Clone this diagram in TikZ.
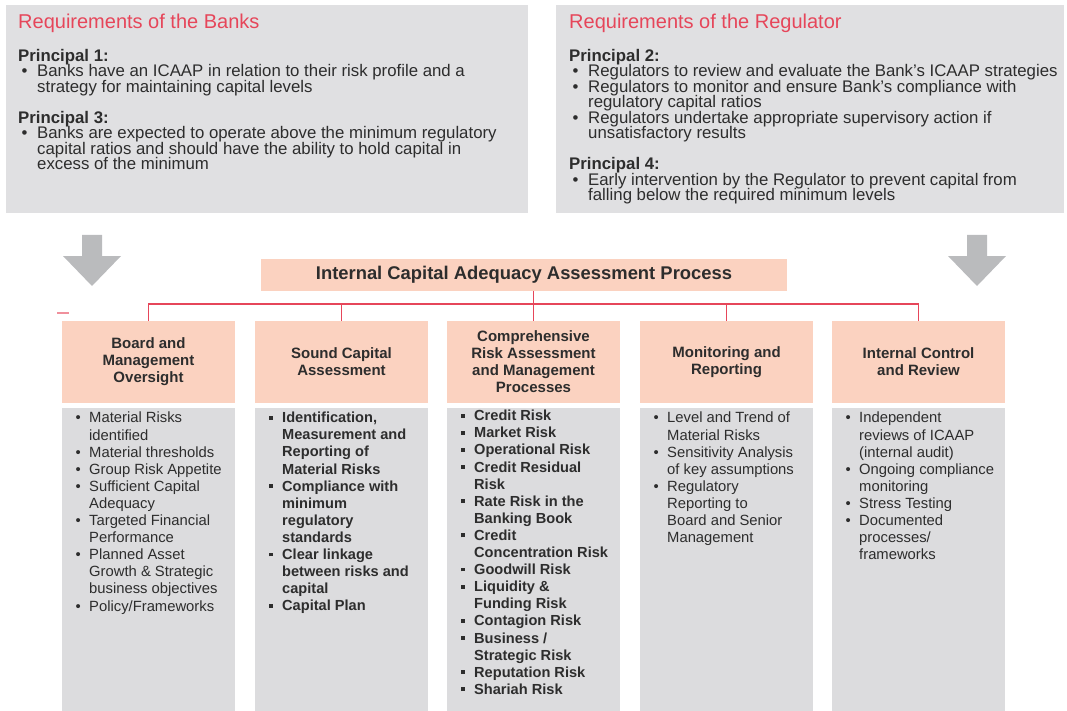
\documentclass[tikz,border=0pt]{standalone}
\usepackage{fontspec}
\setmainfont{Liberation Sans}
\definecolor{panelgrey}{RGB}{224,224,226}
\definecolor{colgrey}{RGB}{220,220,222}
\definecolor{salmon}{RGB}{251,210,192}
\definecolor{icaapred}{RGB}{230,70,90}
\definecolor{arrowgrey}{RGB}{186,187,189}
\definecolor{textgrey}{RGB}{45,45,45}
\newcommand{\pbul}{\makebox[19pt][l]{\hspace{3.5pt}\textbullet}}
\newcommand{\pind}{\hspace*{19pt}}
\newcommand{\cbul}{\makebox[14pt][l]{\hspace{0.5pt}\textbullet}}
\newcommand{\csq}{\makebox[14pt][l]{\hspace{0.5pt}\raisebox{0.22em}{\rule{3.8pt}{3.8pt}}}}
\newcommand{\cind}{\hspace*{14pt}}
\newcommand{\tightlines}{\lineskiplimit=-50pt\relax}
\begin{document}
\begin{tikzpicture}[x=1pt,y=-1pt,
	head/.style={inner sep=0,text=icaapred,font=\fontsize{20}{22}\selectfont},
	body/.style={inner sep=0,align=left,text=textgrey,font={\fontsize{16.8}{15.5}\selectfont\tightlines}},
	titlebox/.style={fill=salmon,inner sep=0,minimum width=526pt,minimum height=32pt,text=textgrey,font=\bfseries\fontsize{18.4}{20}\selectfont},
	hdbox/.style={fill=salmon,inner sep=0,minimum width=173pt,minimum height=82pt,align=center,text=textgrey,font=\bfseries\fontsize{15}{17}\selectfont},
	coltext/.style={inner sep=0,align=left,text=textgrey,font=\fontsize{14.8}{17.1}\selectfont},
	colbold/.style={coltext,font=\bfseries\fontsize{14.6}{17.1}\selectfont},
	tree/.style={draw=icaapred,line width=1.2pt}]
	\useasboundingbox (0,0) rectangle (1067,711);
	%\draw [help lines,step=50] (0,0) grid (1067,711);
	\coordinate (la) at (92,235);
	\coordinate (ra) at (977,235);
	\coordinate (bus) at (0,304);
	% top panels
	\fill [panelgrey] (6,5) rectangle (528,213);
	\fill [panelgrey] (556,5) rectangle (1064,213);
	\node [head,anchor=base west] (bankshead) at (18,29) {Requirements of the Banks};
	\node [body,anchor=north west] (banksbody) at (18,49) {\textbf{Principal 1:}\\
		\pbul Banks have an ICAAP in relation to their risk profile and a\\
		\pind strategy for maintaining capital levels\\[15.5pt]
		\textbf{Principal 3:}\\
		\pbul Banks are expected to operate above the minimum regulatory\\
		\pind capital ratios and should have the ability to hold capital in\\
		\pind excess of the minimum};
	\node [head,anchor=base west] (reghead) at (569,29) {Requirements of the Regulator};
	\node [body,anchor=north west] (regbody) at (569,49) {\textbf{Principal 2:}\\
		\pbul Regulators to review and evaluate the Bank's ICAAP strategies\\
		\pbul Regulators to monitor and ensure Bank's compliance with\\
		\pind regulatory capital ratios\\
		\pbul Regulators undertake appropriate supervisory action if\\
		\pind unsatisfactory results\\[15.5pt]
		\textbf{Principal 4:}\\
		\pbul Early intervention by the Regulator to prevent capital from\\
		\pind falling below the required minimum levels};
	% arrows
	\fill [arrowgrey] (la) ++(-10,0) -- ++(20,0) -- ++(0,21) -- ++(19,0) -- ++(-29,30) -- ++(-29,-30) -- ++(19,0) -- cycle;
	\fill [arrowgrey] (ra) ++(-10,0) -- ++(20,0) -- ++(0,21) -- ++(19,0) -- ++(-29,30) -- ++(-29,-30) -- ++(19,0) -- cycle;
	% process
	\node [titlebox] (title) at (524,274.5) {Internal Capital Adequacy Assessment Process};
	\node [hdbox] (hd1) at (148.5,362) {Board and\\Management\\Oversight};
	\node [hdbox] (hd2) at (341.5,362) {Sound Capital\\Assessment};
	\node [hdbox] (hd3) at (533.5,362) {Comprehensive\\Risk Assessment\\and Management\\Processes};
	\node [hdbox] (hd4) at (726.5,362) {Monitoring and\\Reporting};
	\node [hdbox] (hd5) at (918.5,362) {Internal Control\\and Review};
	\draw [icaapred!60,line width=1.2pt] (57,313) -- (69,313);
	\draw [tree] (hd3.north |- title.south) -- (hd3.north);
	\draw [tree] (hd1.north) -- (hd1.north |- bus) -- (hd5.north |- bus) -- (hd5.north);
	\draw [tree] (hd2.north) -- (hd2.north |- bus);
	\draw [tree] (hd4.north) -- (hd4.north |- bus);
	% columns
	\fill [colgrey] (62,408) rectangle (235,711);
	\fill [colgrey] (255,408) rectangle (428,711);
	\fill [colgrey] (447,408) rectangle (620,711);
	\fill [colgrey] (640,408) rectangle (813,711);
	\fill [colgrey] (832,408) rectangle (1005,711);
	\node [coltext,anchor=north west] (c1) at (75,412) {\cbul Material Risks\\
		\cind identified\\
		\cbul Material thresholds\\
		\cbul Group Risk Appetite\\
		\cbul Sufficient Capital\\
		\cind Adequacy\\
		\cbul Targeted Financial\\
		\cind Performance\\
		\cbul Planned Asset\\
		\cind Growth \& Strategic\\
		\cind business objectives\\
		\cbul Policy/Frameworks};
	\node [colbold,anchor=north west] (c2) at (268,412) {\csq Identification,\\
		\cind Measurement and\\
		\cind Reporting of\\
		\cind Material Risks\\
		\csq Compliance with\\
		\cind minimum\\
		\cind regulatory\\
		\cind standards\\
		\csq Clear linkage\\
		\cind between risks and\\
		\cind capital\\
		\csq Capital Plan};
	\node [colbold,anchor=north west] (c3) at (460,410) {\csq Credit Risk\\
		\csq Market Risk\\
		\csq Operational Risk\\
		\csq Credit Residual\\
		\cind Risk\\
		\csq Rate Risk in the\\
		\cind Banking Book\\
		\csq Credit\\
		\cind Concentration Risk\\
		\csq Goodwill Risk\\
		\csq Liquidity \&\\
		\cind Funding Risk\\
		\csq Contagion Risk\\
		\csq Business /\\
		\cind Strategic Risk\\
		\csq Reputation Risk\\
		\csq Shariah Risk};
	\node [coltext,anchor=north west] (c4) at (653,412) {\cbul Level and Trend of\\
		\cind Material Risks\\
		\cbul Sensitivity Analysis\\
		\cind of key assumptions\\
		\cbul Regulatory\\
		\cind Reporting to\\
		\cind Board and Senior\\
		\cind Management};
	\node [coltext,anchor=north west] (c5) at (845,412) {\cbul Independent\\
		\cind reviews of ICAAP\\
		\cind (internal\ audit)\\
		\cbul Ongoing compliance\\
		\cind monitoring\\
		\cbul Stress Testing\\
		\cbul Documented\\
		\cind processes/\\
		\cind frameworks};
\end{tikzpicture}
\end{document}
